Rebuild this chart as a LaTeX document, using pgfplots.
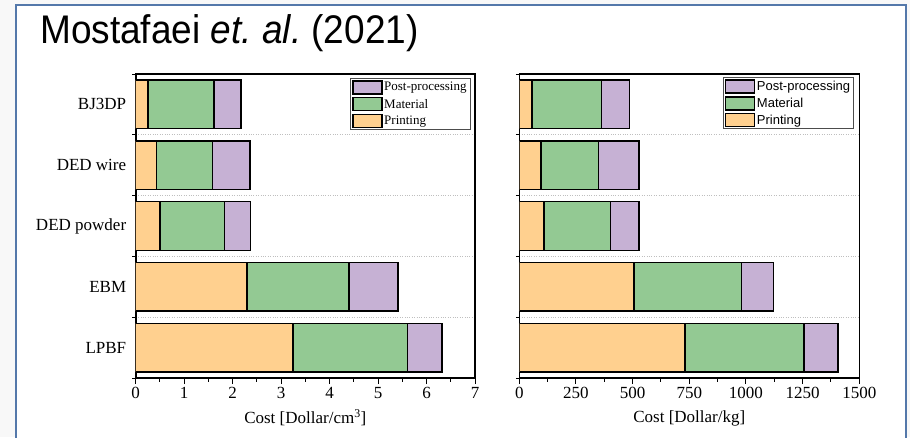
\documentclass[border=0pt]{standalone}
\usepackage{graphicx}
\usepackage{fontspec}
\usepackage{pgfplots}
\usepackage{pgfplotstable}
\pgfplotsset{compat=1.18}
\setmainfont{Liberation Serif}
\newfontfamily\arial{Liberation Sans}

\definecolor{cPrint}{RGB}{255,208,143}
\definecolor{cMat}{RGB}{147,201,147}
\definecolor{cPost}{RGB}{198,177,212}
\definecolor{framec}{RGB}{84,120,170}
\definecolor{outside}{RGB}{248,248,248}

% Cost per unit volume [Dollar/cm^3]; y: 0 = LPBF ... 4 = BJ3DP
\pgfplotstableread{
y print mat  post
0 3.25  2.36 0.71
1 2.30  2.10 1.01
2 0.50  1.33 0.54
3 0.43  1.15 0.78
4 0.25  1.37 0.55
}\costvol

% Cost per unit mass [Dollar/kg]
\pgfplotstableread{
y print mat post
0 730   526 149
1 507   474 141
2 110   293 124
3 96    253 180
4 57    306 124
}\costmass

\pgfplotsset{
  costaxis/.style={
    scale only axis, height=304pt, anchor=south west,
    xbar stacked, bar width=0.8,
    ymin=-0.5, ymax=4.5, ytick={0,...,4},
    minor ytick={-0.5,0.5,...,4.5},
    yminorgrids,
    minor grid style={dotted, black!25, line width=0.8pt},
    tick align=outside, tick pos=left,
    major tick length=6pt, minor tick length=3.5pt,
    major y tick style={draw=none},
    every tick/.append style={black, line width=1pt},
    axis line style={line width=1.6pt},
    minor x tick num=1, xmin=0,
    scaled ticks=false,
    /pgf/number format/assume math mode=true,
    /pgf/number format/1000 sep={},
    tick label style={font=\fontsize{17}{19}\selectfont},
    label style={font=\fontsize{17}{19}\selectfont},
    xlabel style={at={(axis description cs:0.5,0)}, anchor=center, yshift=-40pt},
    legend image code/.code={\draw[##1, line width=1.3pt] (0pt,-6.5pt) rectangle (29pt,6.5pt);},
    reverse legend,
    legend cell align=left,
    legend style={draw=black!70, line width=0.9pt, inner xsep=2pt, inner ysep=1.5pt,
      row sep=2.6pt, nodes={inner sep=1.6pt}},
    every axis plot/.append style={draw=black, line width=1.5pt},
  },
}

\begin{document}
\begin{tikzpicture}
\useasboundingbox (0pt,0pt) rectangle (910pt,437pt);
\fill[outside] (0pt,0pt) rectangle (910pt,437pt);
\fill[white] (16pt,0pt) rectangle (906pt,432pt);
\draw[framec, line width=1.5pt] (16pt,-5pt) -- (16pt,432pt) -- (906pt,432pt) -- (906pt,-5pt);

\node[anchor=base west, inner sep=0pt] at (40pt,393pt)
  {\arial\fontsize{37}{40}\selectfont\scalebox{1}[1.08]{Mostafaei \textit{et.\ al.}\ (2021)}};

\begin{axis}[costaxis,
  at={(135.7pt,59pt)}, width=339.3pt,
  xmax=7, xtick={0,...,7},
  yticklabels={LPBF,EBM,DED powder,DED wire,BJ3DP},
  xlabel={Cost [Dollar/cm\textsuperscript{3}]},
  legend style={at={(axis description cs:0.987,0.986)}, anchor=north east,
    font=\fontsize{13}{15}\selectfont},
]
\addplot[fill=cPrint] table[x=print, y=y] {\costvol};
\addplot[fill=cMat]   table[x=mat,   y=y] {\costvol};
\addplot[fill=cPost]  table[x=post,  y=y] {\costvol};
\legend{Printing, Material, Post-processing}
\end{axis}

\begin{axis}[costaxis,
  at={(519.3pt,59pt)}, width=340pt,
  xmax=1500, xtick={0,250,...,1500},
  yticklabels={},
  xlabel={Cost [Dollar/kg]},
  legend style={at={(axis description cs:0.985,0.989)}, anchor=north east,
    font=\arial\fontsize{13}{15}\selectfont},
]
\addplot[fill=cPrint] table[x=print, y=y] {\costmass};
\addplot[fill=cMat]   table[x=mat,   y=y] {\costmass};
\addplot[fill=cPost]  table[x=post,  y=y] {\costmass};
\legend{Printing, Material, Post-processing}
\end{axis}
\end{tikzpicture}
\end{document}
